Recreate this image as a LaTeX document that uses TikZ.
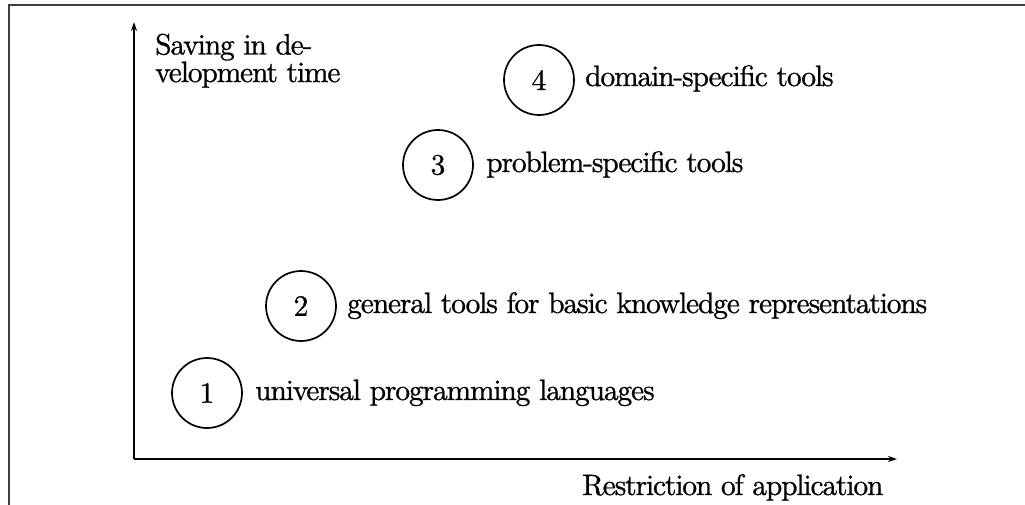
\documentclass[tikz,border=0pt]{standalone}
\usepackage{fontspec}
\setmainfont{lmroman10-regular.otf}[FakeBold=0.8,LetterSpace=-3.9]
\usetikzlibrary{arrows.meta}
\begin{document}
\begin{tikzpicture}[x=1pt,y=-1pt,
  txt/.style={inner sep=0pt,font=\fontsize{29.5}{26}\selectfont},
  num/.style={circle,draw,line width=1.7pt,minimum size=70pt,inner sep=0pt,font=\fontsize{29.5}{26}\selectfont},
  lbl/.style={txt,anchor=base west},
  axis/.style={line width=1.4pt,-{Stealth[length=9pt,width=6pt]}},
  frame/.style={line width=1.6pt,black!75}]
\useasboundingbox (0,0) rectangle (1025,505);
% frame (top and left)
\coordinate (ftl) at (9,5);
\coordinate (ftr) at (1025,5);
\coordinate (fbl) at (9,505);
\draw[frame] (ftr) -- (ftl) -- (fbl);
% axes
\coordinate (o) at (134,459);
\coordinate (ytip) at (134,22);
\coordinate (xtip) at (897,459);
\draw[axis] (o) -- (ytip);
\draw[axis] (o) -- (xtip);
\node[txt,anchor=north west,align=left] (ylab) at (155,33.5) {Saving in de-\\velopment time};
\node[lbl] (xlab) at (582,495) {Restriction of application};
% circles
\node[num] (c4) at (539,80) {4};
\node[num] (c3) at (438,165) {3};
\node[num] (c2) at (301,306) {2};
\node[num] (c1) at (207,393) {1};
% labels
\node[lbl] (l4) at (585,86) {domain-specific tools};
\node[lbl] (l3) at (486,172) {problem-specific tools};
\node[lbl] (l2) at (347,313) {general tools for basic knowledge representations};
\node[lbl] (l1) at (255,400) {universal programming languages};
\end{tikzpicture}
\end{document}
